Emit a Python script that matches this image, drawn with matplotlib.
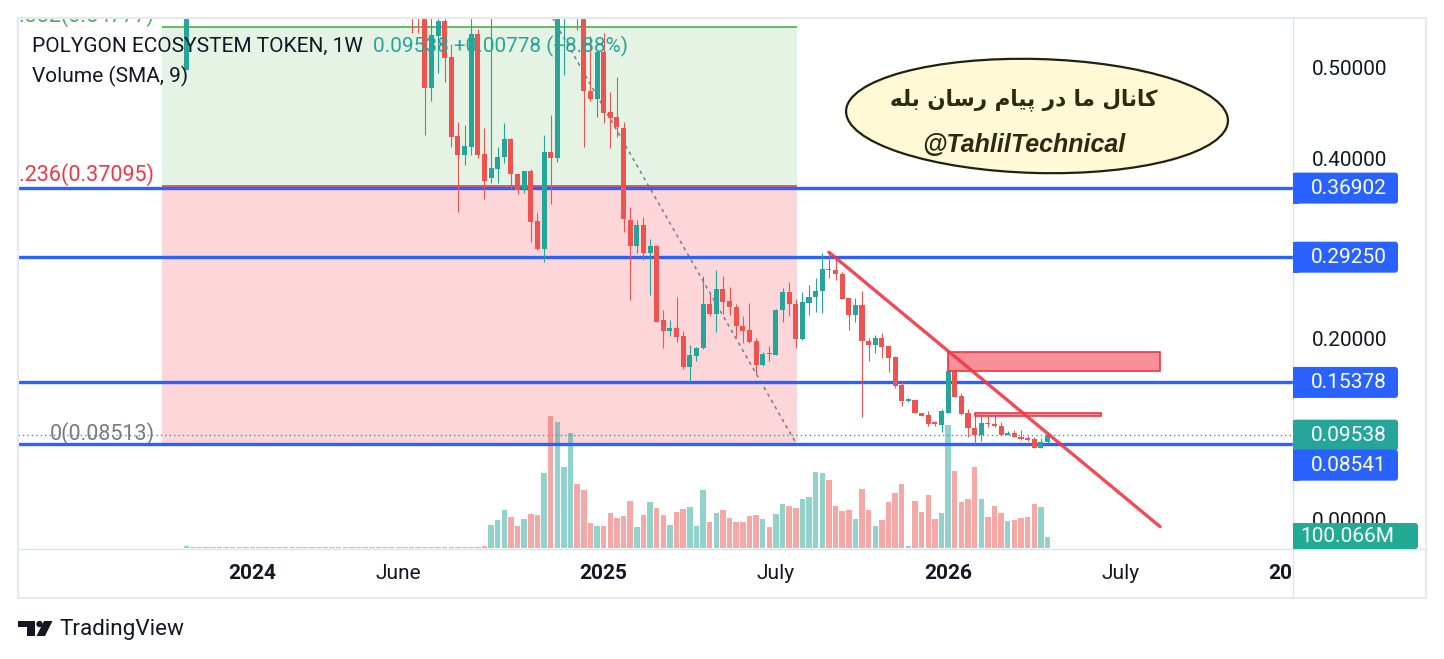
import datetime as dt
import numpy as np
import matplotlib
matplotlib.use("Agg")
import matplotlib.pyplot as plt
import matplotlib.dates as mdates
from matplotlib.patches import Rectangle, Ellipse, FancyBboxPatch, Polygon, Circle
from matplotlib.transforms import offset_copy
from matplotlib.colors import to_rgba

plt.rcParams['font.family'] = ['Roboto', 'DejaVu Sans']

# ---------------- data ----------------
first_week = dt.date(2023, 10, 23)   # weekly bars (Monday)
n_weeks = 131
candle_from = 34                     # first week whose candle falls inside the price range

# weeks 34 .. 130 ; nan = candle entirely above the visible range
opens = [0.605, 0.585, 0.565, 0.480, 0.538, 0.554, 0.514, 0.427, 0.406, 0.415,
         0.540, 0.407, 0.380, 0.390, 0.403, 0.423, 0.385, 0.368, 0.388, 0.333,
         0.302, 0.409, 0.402, 0.580, np.nan, 0.660, 0.600, 0.477, 0.468, 0.520,
         0.453, 0.448, 0.436, 0.334, 0.305, 0.328, 0.297, 0.305, 0.223, 0.211,
         0.214, 0.205, 0.171, 0.183, 0.192, 0.241, 0.230, 0.257, 0.244, 0.237,
         0.216, 0.212, 0.200, 0.173, 0.186, 0.184, 0.234, 0.254, 0.241, 0.202,
         0.242, 0.248, 0.255, 0.279, 0.278, 0.274, 0.247, 0.228, 0.240, 0.200,
         0.195, 0.203, 0.194, 0.182, 0.151, 0.133, 0.134, 0.120, 0.118, 0.110,
         0.107, 0.120, 0.166, 0.139, 0.120, 0.103, 0.0956, 0.109, 0.108, 0.1055,
         0.0956, 0.0975, 0.093, 0.092, 0.091, 0.0815, 0.0876]
highs = [0.625, 0.600, 0.575, 0.565, 0.565, 0.560, 0.529, 0.442, 0.439, 0.575,
         0.545, 0.436, 0.570, 0.415, 0.441, 0.425, 0.386, 0.388, 0.390, 0.341,
         0.428, 0.450, 0.600, 0.660, np.nan, 0.700, 0.620, 0.537, 0.522, 0.541,
         0.475, 0.492, 0.442, 0.348, 0.334, 0.337, 0.313, 0.306, 0.234, 0.223,
         0.248, 0.211, 0.195, 0.193, 0.272, 0.252, 0.278, 0.272, 0.259, 0.241,
         0.227, 0.242, 0.203, 0.188, 0.194, 0.235, 0.258, 0.265, 0.246, 0.254,
         0.262, 0.269, 0.297, 0.298, 0.291, 0.276, 0.247, 0.247, 0.255, 0.203,
         0.206, 0.208, 0.194, 0.183, 0.155, 0.137, 0.134, 0.120, 0.122, 0.111,
         0.124, 0.188, 0.169, 0.142, 0.124, 0.1195, 0.119, 0.117, 0.118, 0.110,
         0.100, 0.101, 0.101, 0.0945, 0.0937, 0.0919, 0.0975]
lows = [0.541, 0.541, 0.428, 0.466, 0.496, 0.487, 0.415, 0.343, 0.395, 0.406,
        0.402, 0.357, 0.375, 0.375, 0.397, 0.368, 0.362, 0.364, 0.309, 0.300,
        0.287, 0.351, 0.398, 0.494, np.nan, 0.544, 0.415, 0.465, 0.448, 0.441,
        0.413, 0.426, 0.320, 0.245, 0.297, 0.289, 0.251, 0.221, 0.192, 0.205,
        0.199, 0.169, 0.154, 0.178, 0.191, 0.227, 0.210, 0.230, 0.228, 0.204,
        0.198, 0.198, 0.163, 0.172, 0.177, 0.184, 0.221, 0.227, 0.192, 0.201,
        0.229, 0.232, 0.231, 0.269, 0.267, 0.246, 0.212, 0.221, 0.116, 0.177,
        0.186, 0.181, 0.165, 0.148, 0.128, 0.132, 0.120, 0.117, 0.105, 0.105,
        0.099, 0.120, 0.138, 0.118, 0.093, 0.0855, 0.089, 0.104, 0.104, 0.0956,
        0.0956, 0.093, 0.0896, 0.089, 0.0815, 0.0815, 0.0864]
closes = [0.585, 0.565, 0.480, 0.539, 0.554, 0.513, 0.426, 0.406, 0.416, 0.540,
          0.406, 0.377, 0.391, 0.403, 0.423, 0.385, 0.367, 0.388, 0.332, 0.302,
          0.409, 0.402, 0.580, 0.630, np.nan, 0.600, 0.476, 0.468, 0.520, 0.452,
          0.447, 0.437, 0.335, 0.305, 0.328, 0.297, 0.305, 0.221, 0.211, 0.214,
          0.204, 0.171, 0.184, 0.192, 0.241, 0.230, 0.257, 0.243, 0.237, 0.216,
          0.211, 0.199, 0.173, 0.185, 0.185, 0.234, 0.254, 0.241, 0.202, 0.243,
          0.248, 0.255, 0.279, 0.278, 0.274, 0.246, 0.228, 0.240, 0.200, 0.195,
          0.203, 0.193, 0.181, 0.150, 0.133, 0.135, 0.120, 0.117, 0.108, 0.108,
          0.122, 0.166, 0.138, 0.119, 0.103, 0.096, 0.1085, 0.108, 0.105, 0.0956,
          0.0975, 0.093, 0.091, 0.090, 0.0815, 0.0876, 0.09538]
launch_candle = (0.500, 0.650, 0.500, 0.620)   # week 0: open, high, low, close

# weekly volume, millions
volume_m = [18, 9, 9, 9, 9, 9, 9, 9, 9, 9,
            9, 9, 9, 9, 9, 9, 9, 9, 9, 9,
            9, 9, 9, 9, 9, 9, 9, 9, 9, 9,
            9, 9, 9, 9, 9, 9, 9, 9, 9, 9,
            9, 9, 9, 9, 12, 20, 206, 251, 339, 277,
            197, 259, 304, 295, 667, 1172, 1118, 720, 1021, 569,
            516, 224, 197, 197, 313, 268, 286, 419, 189, 295,
            410, 357, 295, 206, 321, 348, 366, 197, 516, 233,
            313, 339, 268, 233, 233, 286, 295, 259, 189, 304,
            392, 375, 357, 437, 454, 676, 667, 605, 375, 330,
            339, 259, 525, 339, 197, 251, 410, 490, 569, 20,
            419, 321, 472, 259, 313, 1092, 684, 410, 437, 720,
            437, 277, 375, 313, 242, 251, 268, 277, 392, 366,
            100.066]
# up/down of the weeks whose candle is off the top of the chart
hidden_up = {1: True, 2: True, 3: False, 4: False, 5: True, 6: True, 7: False,
             8: True, 9: True, 10: False, 11: True, 12: False, 13: True, 14: False,
             15: True, 16: True, 17: False, 18: False, 19: True, 20: False,
             21: False, 22: False, 23: False, 24: False, 25: True, 26: True,
             27: True, 28: False, 29: True, 30: True, 31: False, 32: False,
             33: False, 58: True}

fib_prices = [0.08513, 0.37095, 0.54777]
fib_names = ['0', '0.236', '0.382']
blue_levels = [0.36902, 0.29250, 0.15378, 0.08541]
last_price = 0.09538
change = 0.00778
change_pct = 8.88
last_volume_label = '100.066M'

tick_dates = [dt.date(2024, 1, 1), dt.date(2024, 6, 3), dt.date(2025, 1, 6),
              dt.date(2025, 7, 7), dt.date(2026, 1, 5), dt.date(2026, 7, 6),
              dt.date(2027, 1, 4)]
tick_labels = ['2024', 'June', '2025', 'July', '2026', 'July', '2027']
tick_bold = [True, False, True, False, True, False, True]
grid_prices = [0.0, 0.1, 0.2, 0.3, 0.4, 0.5]
axis_prices = [0.5, 0.4, 0.2, 0.0]

# drawing-tool anchors
fib_start, fib_end = dt.date(2023, 9, 27), dt.date(2025, 7, 29)
trend_pts = [(dt.date(2025, 9, 1), 0.298), (dt.date(2026, 8, 17), -0.006)]
diag_pts = [(dt.date(2024, 10, 1), 0.636), (dt.date(2025, 7, 29), 0.08513)]
zone_big = (dt.date(2026, 1, 5), dt.date(2026, 8, 17), 0.1665, 0.1878)
zone_thin = (dt.date(2026, 2, 2), dt.date(2026, 6, 15), 0.1162, 0.1195)

# ---------------- layout ----------------
W, H = 1444, 659
UP, DOWN = '#26a69a', '#ef5350'
BLUE = '#2962ff'
TXT = '#131722'
FS = 15

fig = plt.figure(figsize=(W / 100, H / 100), dpi=100)
fig.patch.set_facecolor('white')


def box(x0, y0, x1, y1):
    return [x0 / W, 1 - y1 / H, (x1 - x0) / W, (y1 - y0) / H]


pane = (18, 18, 1293, 549)
ax = fig.add_axes(box(*pane), zorder=0)
axv = fig.add_axes(box(*pane), sharex=ax, zorder=1)
axp = fig.add_axes(box(*pane), sharex=ax, sharey=ax, zorder=2)
ax_t = fig.add_axes(box(18, 549, 1293, 598), sharex=ax, zorder=3)
ax_px = fig.add_axes([0, 0, 1, 1], zorder=5)

weeks = [first_week + dt.timedelta(weeks=i) for i in range(n_weeks)]
wk = mdates.date2num(weeks)
d2n = lambda d: mdates.date2num(d)

ax.set_xlim(wk[0] - 177.8, wk[0] + 1169.4)
ax.set_ylim(-0.0307, 0.5574)
axv.set_ylim(-6, 4696)
ax_px.set_xlim(0, W)
ax_px.set_ylim(H, 0)

for a in (axv, axp, ax_t, ax_px):
    a.patch.set_visible(False)
for a in (ax, axv, axp, ax_t, ax_px):
    for s in a.spines.values():
        s.set_visible(False)
    a.tick_params(left=False, bottom=False, labelleft=False, labelbottom=False)
ax_px.axis('off')
ax_t.axis('off')
axv.axis('off')

# grid
ax.set_xticks([d2n(d) for d in tick_dates])
ax.set_yticks(grid_prices)
ax.grid(True, color='#f0f3fa', lw=1.0)
axp.set_xticks([])
axp.set_yticks([])
ax.set_xlim(wk[0] - 177.8, wk[0] + 1169.4)

# fib fills
fs, fe = d2n(fib_start), d2n(fib_end)
ax.add_patch(Rectangle((fs, fib_prices[0]), fe - fs, fib_prices[1] - fib_prices[0],
                       fc='#f23645', alpha=0.2, lw=0))
ax.add_patch(Rectangle((fs, fib_prices[1]), fe - fs, fib_prices[2] - fib_prices[1],
                       fc='#4caf50', alpha=0.15, lw=0))

# volume
vol_cols = []
for i in range(n_weeks):
    if i == 0:
        up = launch_candle[3] >= launch_candle[0]
    elif i in hidden_up:
        up = hidden_up[i]
    elif i >= candle_from:
        up = closes[i - candle_from] >= opens[i - candle_from]
    else:
        up = True
    vol_cols.append(to_rgba(UP if up else DOWN, 0.5))
axv.bar(wk, volume_m, width=5.8, color=vol_cols, lw=0)

# fib level lines + labels
fib_cols = ['#787b86', '#f23645', '#4caf50']
for p, name, col in zip(fib_prices, fib_names, fib_cols):
    axp.hlines(p, fs, fe, color=col, lw=1.2, zorder=2)
    tr = offset_copy(axp.transData, fig=fig, x=-7, y=5, units='dots')
    axp.text(fs, p, f'{name}({p:.5f})', transform=tr, ha='right', va='baseline',
             fontsize=15.5, color=col, clip_on=True)

# blue levels and last price line
for p in blue_levels:
    axp.axhline(p, color=BLUE, lw=2.4, zorder=3)
axp.axhline(last_price, color=UP, lw=1.0, ls=(0, (1, 2.2)), zorder=3)

# diagonal dashed helper
axp.plot([d2n(diag_pts[0][0]), d2n(diag_pts[1][0])], [diag_pts[0][1], diag_pts[1][1]],
         color='#787b86', lw=1.1, dashes=(2.2, 2.6), zorder=2)

# candles
o = np.array([launch_candle[0]] + opens)
hh = np.array([launch_candle[1]] + highs)
ll = np.array([launch_candle[2]] + lows)
cc = np.array([launch_candle[3]] + closes)
xc = np.concatenate([[wk[0]], wk[candle_from:]])
ok = ~np.isnan(o)
xc, o, hh, ll, cc = xc[ok], o[ok], hh[ok], ll[ok], cc[ok]
cols = [UP if c >= op else DOWN for op, c in zip(o, cc)]
axp.vlines(xc, ll, hh, colors=cols, lw=0.8, zorder=4)
body_lo = np.minimum(o, cc)
body_h = np.maximum(np.abs(cc - o), 0.0012)
axp.bar(xc, body_h, bottom=body_lo, width=5.3, color=cols, lw=0, zorder=5)

# red zones
for d0, d1, p0, p1 in (zone_big, zone_thin):
    axp.add_patch(Rectangle((d2n(d0), p0), d2n(d1) - d2n(d0), p1 - p0,
                            fc=to_rgba('#f23645', 0.55), ec='#f23645', lw=1.2, zorder=6))

# trend line
axp.plot([d2n(trend_pts[0][0]), d2n(trend_pts[1][0])], [trend_pts[0][1], trend_pts[1][1]],
         color='#f23645', lw=2.4, alpha=0.9, solid_capstyle='round', zorder=7)

# time axis labels
for d, s, b in zip(tick_dates, tick_labels, tick_bold):
    ax_t.text(d2n(d), 0.5, s, transform=ax_t.get_xaxis_transform(), ha='center',
              va='center', fontsize=FS, color=TXT,
              fontweight='bold' if b else 'normal', clip_on=True)


def ypx(a, v):
    return H - a.transData.transform((a.get_xlim()[0], v))[1]


# frame
ax_px.add_patch(Rectangle((18, 18), 1408, 580, fc='none', ec='#e6e9f0', lw=1.6, zorder=1))
ax_px.plot([1293, 1293], [18, 598], color='#e0e3eb', lw=1.0, zorder=1)
ax_px.plot([18, 1426], [549, 549], color='#e0e3eb', lw=1.0, zorder=1)

# price axis labels
for p in axis_prices:
    ax_px.text(1312, ypx(ax, p), f'{p:.5f}', ha='left', va='center', fontsize=FS,
               color=TXT, zorder=2)


def tag(yc, text, col, width=105, height=31):
    ax_px.add_patch(FancyBboxPatch((1293, yc - height / 2), width, height,
                                   boxstyle='round,pad=0,rounding_size=3',
                                   fc=col, ec='none', zorder=3))
    ax_px.add_patch(Rectangle((1293, yc - height / 2), 6, height, fc=col, ec='none', zorder=3))
    ax_px.text(1311, yc, text, ha='left', va='center', fontsize=FS, color='white', zorder=4)


for p in blue_levels[:3]:
    tag(ypx(ax, p), f'{p:.5f}', BLUE)
last_y = ypx(ax, last_price)
tag(last_y, f'{last_price:.5f}', UP)
tag(last_y + 30, f'{blue_levels[3]:.5f}', BLUE)
vy = ypx(axv, volume_m[-1])
ax_px.add_patch(FancyBboxPatch((1293, vy - 14), 125, 26,
                               boxstyle='round,pad=0,rounding_size=3',
                               fc='#22ab94', ec='none', zorder=3))
ax_px.add_patch(Rectangle((1293, vy - 14), 6, 26, fc='#22ab94', ec='none', zorder=3))
ax_px.text(1300, vy - 1, last_volume_label, ha='left', va='center', fontsize=FS,
           color='white', zorder=4)

# legend text
ax_px.text(32, 46, 'POLYGON ECOSYSTEM TOKEN, 1W', ha='left', va='center',
           fontsize=FS, color=TXT, zorder=2)
ax_px.text(373, 46, f'{last_price:.5f} +{change:.5f} (+{change_pct:.2f}%)', ha='left',
           va='center', fontsize=FS, color=UP, zorder=2)
ax_px.text(32, 76, 'Volume (SMA, 9)', ha='left', va='center', fontsize=FS,
           color=TXT, zorder=2)

# callout ellipse
ax_px.add_patch(Ellipse((1037, 116), 382, 114, angle=1.5, fc='#fff9d6', ec='#222010',
                        lw=1.6, zorder=6))
# "کانال ما در پیام رسان بله" in shaped, visual order
fa_text = ('\uFEEA\uFEE0\uFE91 \uFEE5\uFE8E\uFEB3\uFEAD \uFEE1\uFE8E\uFBFF\uFB58 '
           '\uFEAD\uFEA9 \uFE8E\uFEE3 \uFEDD\uFE8E\uFEE7\uFE8E\uFB90')
ax_px.text(1024, 100, fa_text, ha='center', va='center', fontsize=15.5,
           fontweight='bold', color='#2d2a12', family=['DejaVu Sans'], zorder=7)
ax_px.text(1024, 145, '@TahlilTechnical', ha='center', va='center', fontsize=18,
           fontweight='bold', style='italic', color='#2d2a12',
           family=['Liberation Sans', 'DejaVu Sans'], zorder=7)

# TradingView mark
ax_px.add_patch(Rectangle((18, 621), 17, 6, fc=TXT, ec='none'))
ax_px.add_patch(Rectangle((27, 621), 8, 15, fc=TXT, ec='none'))
ax_px.add_patch(Circle((39.5, 624), 3.2, fc=TXT, ec='none'))
ax_px.add_patch(Polygon([(44, 621), (52.5, 621), (45, 636), (36.5, 636)], fc=TXT, ec='none'))
ax_px.text(59, 629, 'TradingView', ha='left', va='center', fontsize=16.2, color=TXT)

fig.savefig('out.png', dpi=100)
